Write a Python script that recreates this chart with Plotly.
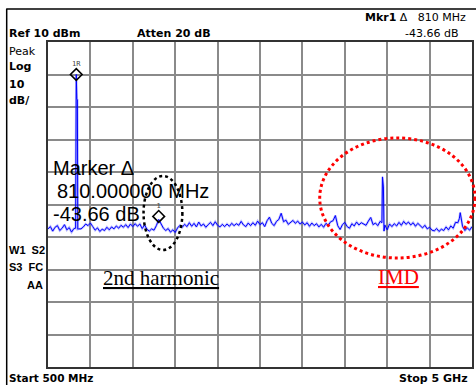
import plotly.graph_objects as go

# ---- sweep settings (spectrum analyzer) ----
START_MHZ = 500
STOP_MHZ = 5000
STEP_MHZ = 25

# ---- trace levels in dBm (one per 25 MHz step) ----
level_dbm = [
    -47.5, -46.8, -48.2, -47.0, -46.5, -48.0, -47.3, -46.2, -47.8, -47.1,   # 500-725
    -48.5, -47.4, 0.0, -47.5, -47.5, -46.9, -46.0, -46.5, -45.7, -46.8,      # 750-975
    -47.9, -47.2, -48.3, -47.6, -48.0, -47.0, -47.8, -46.9, -47.5, -46.6,    # 1000-1225
    -47.3, -46.4, -47.0, -46.2, -47.1, -46.0, -46.8, -45.9, -46.7, -46.0,    # 1250-1475
    -47.4, -46.3, -47.6, -48.2, -47.5, -47.9, -46.5, -44.6, -46.2, -47.3,    # 1500-1725
    -48.0, -47.4, -48.5, -47.8, -48.6, -47.2, -46.4, -47.0, -46.1, -46.8,    # 1750-1975
    -45.6, -46.7, -45.8, -46.9, -45.4, -46.6, -46.0, -47.0, -46.2, -45.5,    # 2000-2225
    -46.5, -45.3, -46.4, -46.9, -46.1, -46.8, -46.0, -46.7, -45.8, -46.5,    # 2250-2475
    -45.9, -46.4, -45.2, -46.3, -46.8, -45.7, -46.5, -45.6, -46.4, -45.1,    # 2500-2725
    -46.2, -45.6, -46.8, -45.0, -43.9, -45.8, -46.5, -45.2, -44.6, -42.7,    # 2750-2975
    -45.3, -44.8, -46.1, -45.5, -44.9, -45.8, -45.1, -46.0, -45.4, -46.3,    # 3000-3225
    -45.6, -46.7, -45.7, -46.5, -45.9, -46.9, -46.1, -47.0, -45.8, -46.4,    # 3250-3475
    -45.3, -45.0, -43.4, -46.5, -47.7, -46.2, -45.5, -46.8, -47.3, -45.9,    # 3500-3725
    -46.6, -45.4, -46.3, -45.6, -45.9, -46.4, -45.1, -44.0, -46.2, -45.7,    # 3750-3975
    -46.5, -45.2, -31.5, -46.3, -47.8, -46.0, -46.8, -45.9, -46.6, -45.5,    # 4000-4225
    -46.4, -45.2, -46.1, -45.4, -46.3, -45.6, -46.7, -45.8, -46.5, -47.2,    # 4250-4475
    -46.4, -47.5, -47.0, -47.9, -48.1, -47.4, -48.3, -47.6, -48.0, -46.9,    # 4500-4725
    -47.8, -46.6, -47.3, -45.5, -45.6, -42.5, -46.8, -48.0, -47.2, -47.9,    # 4750-4975
    -46.8,                                                                    # 5000
]
# extra sweep points on the steep edges of the carrier and the IMD spur
edge_freq_mhz = [793, 806, 812, 816, 4044, 4060, 4066, 4866]
edge_level_dbm = [-47.3, -7.5, -7.8, -47.6, -45.6, -34.6, -48.2, -44.3]

grid_freq_mhz = [START_MHZ + STEP_MHZ * i for i in range(len(level_dbm))]
pts = sorted(zip(grid_freq_mhz + edge_freq_mhz, level_dbm + edge_level_dbm))
trace_f = [p[0] for p in pts]
trace_l = [p[1] for p in pts]

# ---- markers ----
marker_freq_mhz = [800, 1675]
marker_level_dbm = [0.0, -43.66]
marker_labels = ["1R", "1"]

REF_DBM = 10
DB_PER_DIV = 10
N_DIV = 10

# ---- pixel layout helpers (plot area 48..474 x 42..367) ----
PL, PR, PT, PB = 48, 474, 42, 367
def px(x):
    return (x - PL) / (PR - PL)
def py(y):
    return (PB - y) / (PB - PT)

fig = go.Figure()
fig.add_trace(go.Scatter(x=trace_f, y=trace_l, mode="lines",
                         line=dict(color="rgba(70,70,255,0.35)", width=2.4),
                         hoverinfo="skip", showlegend=False))
fig.add_trace(go.Scatter(x=trace_f, y=trace_l, mode="lines",
                         line=dict(color="#0000ff", width=1),
                         hoverinfo="skip", showlegend=False))
fig.add_trace(go.Scatter(x=marker_freq_mhz, y=marker_level_dbm, mode="markers+text",
                         marker=dict(symbol="diamond-open", size=9, color="black",
                                     line=dict(width=1.6, color="black")),
                         text=marker_labels, textposition="top center",
                         textfont=dict(size=7, color="#444", family="DejaVu Sans Mono"),
                         hoverinfo="skip", showlegend=False))

span = STOP_MHZ - START_MHZ
fig.update_xaxes(range=[START_MHZ, STOP_MHZ], tick0=START_MHZ, dtick=span / N_DIV,
                 showgrid=True, gridcolor="#8a8a8a", gridwidth=1.6,
                 showticklabels=False, ticks="", zeroline=False,
                 showline=True, mirror=True, linecolor="#333", linewidth=2)
fig.update_yaxes(range=[REF_DBM - DB_PER_DIV * N_DIV, REF_DBM], tick0=REF_DBM, dtick=DB_PER_DIV,
                 showgrid=True, gridcolor="#8a8a8a", gridwidth=1.6,
                 showticklabels=False, ticks="", zeroline=False,
                 showline=True, mirror=True, linecolor="#333", linewidth=2)

shapes = []
for k in [2, 3, 5, 8]:
    xv = START_MHZ + k * span / N_DIV
    shapes.append(dict(type="line", xref="x", yref="paper", x0=xv, x1=xv, y0=0, y1=1,
                       line=dict(color="#222", width=1.3), layer="below"))
shapes.append(dict(type="line", xref="paper", yref="paper", x0=px(6), x1=px(480), y0=py(9), y1=py(9),
                   line=dict(color="black", width=1.5)))
shapes.append(dict(type="line", xref="paper", yref="paper", x0=px(6.5), x1=px(6.5), y0=py(9), y1=py(390),
                   line=dict(color="black", width=1.5)))
shapes.append(dict(type="circle", xref="paper", yref="paper", x0=px(144), x1=px(183), y0=py(250), y1=py(176),
                   line=dict(color="black", width=2.5, dash="dot")))
shapes.append(dict(type="circle", xref="paper", yref="paper", x0=px(321), x1=px(477), y0=py(258), y1=py(138),
                   line=dict(color="#ff0000", width=3, dash="dot")))

SANS = "DejaVu Sans, Arial, sans-serif"
NARROW = "Liberation Sans, Arial, sans-serif"
SERIF = "Liberation Serif, Times New Roman, serif"
NB = "\u00a0"
ann = []
def txt(t, x, y, xa="left", size=11, bold=True, color="black", fam=SANS, under=False):
    f = dict(size=size, color=color, family=fam)
    if bold:
        f["weight"] = "bold"
    if under:
        f["lineposition"] = "under"
    ann.append(dict(text=t, xref="paper", yref="paper", x=px(x), y=py(y), xanchor=xa, yanchor="middle",
                    showarrow=False, font=f))

txt("Ref 10 dBm", 7, 34)
txt("Atten 20 dB", 135, 34)
txt("<b>Mkr1</b> \u0394" + NB * 3 + "810 MHz", 470, 17, xa="right", bold=False)
txt("-43.66 dB", 463, 34, xa="right", bold=False)
txt("Peak", 7, 51, bold=False)
txt("Log", 7, 67)
txt("10", 7, 84)
txt("dB/", 7, 100)
txt("W1" + NB * 2 + "S2", 7, 250, fam=NARROW)
txt("S3" + NB * 2 + "FC", 7, 267, fam=NARROW)
txt("AA", 45, 285, xa="right", fam=NARROW)
txt("Start 500 MHz", 7, 378, size=10.5)
txt("Stop 5 GHz", 472, 378, xa="right")
txt("Marker \u0394", 51, 168, size=20, bold=False, fam=NARROW)
txt("810.000000 MHz", 55, 191, size=20, bold=False, fam=NARROW)
txt("-43.66 dB", 51, 214, size=20, bold=False, fam=NARROW)
txt("2nd harmonic", 101, 278, size=21, bold=False, fam=SERIF, under=True)
txt("IMD", 378, 277, size=21, bold=False, color="#ff0000", fam=SERIF, under=True)

fig.update_layout(width=476, height=385, margin=dict(l=PL, r=476 - PR, t=PT, b=385 - PB),
                  paper_bgcolor="white", plot_bgcolor="white", showlegend=False,
                  shapes=shapes, annotations=ann)
fig.write_html("out.html")
